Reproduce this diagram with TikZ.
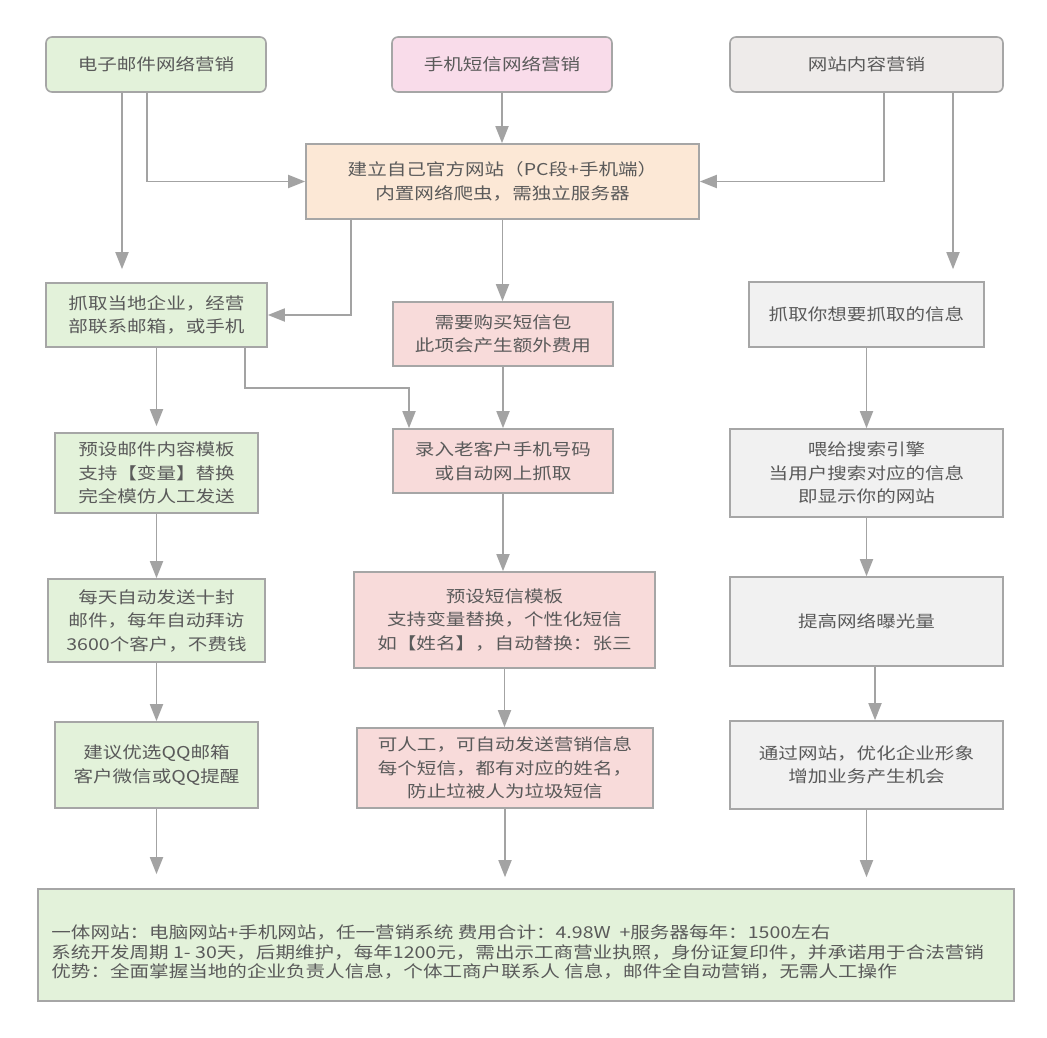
\documentclass[tikz,border=0pt]{standalone}
\usepackage{fontspec}
\newfontfamily\cjk[FakeStretch=1.2]{Noto Sans CJK SC}
\usetikzlibrary{arrows.meta}
\definecolor{bordc}{HTML}{A6A6A6}
\definecolor{arrc}{HTML}{A3A3A3}
\definecolor{txtc}{HTML}{5A5A5A}
\definecolor{grn}{HTML}{E3F2DA}
\definecolor{pnk}{HTML}{F9DCEA}
\definecolor{gryc}{HTML}{EEEBEA}
\definecolor{pch}{HTML}{FCE8D6}
\definecolor{rdp}{HTML}{F8DBDA}
\definecolor{gry}{HTML}{F1F1F1}
\begin{document}
\begin{tikzpicture}[x=1pt,y=-1pt,
  box/.style={draw=bordc, line width=1.6pt, text=txtc, align=center, inner sep=0pt,
    font=\cjk\fontsize{16.3}{23.5}\selectfont},
  rbox/.style={box, rounded corners=6pt},
  arr/.style={draw=arrc, line width=1.8pt, -{Triangle[length=17pt,width=13pt]}}]
\useasboundingbox (0,0) rectangle (1047,1038);
\fill[white] (0,0) rectangle (1047,1038);

\node[rbox, fill=grn, minimum width=220pt, minimum height=55pt] (A) at (156,64.5) {电子邮件网络营销};
\node[rbox, fill=pnk, minimum width=220pt, minimum height=55pt] (B) at (502,64.5) {手机短信网络营销};
\node[rbox, fill=gryc, minimum width=273pt, minimum height=55pt] (C) at (866.5,64.5) {网站内容营销};
\node[box, fill=pch, minimum width=393pt, minimum height=75pt] (D) at (502.5,181.5) {建立自己官方网站（PC段+手机端）\\ 内置网络爬虫，需独立服务器};

\node[box, fill=grn, minimum width=221pt, minimum height=64pt] (E) at (156.5,315) {抓取当地企业，经营\\部联系邮箱，或手机};
\node[box, fill=grn, minimum width=203pt, minimum height=80pt] (G) at (156.5,473) {预设邮件内容模板\\支持【变量】替换\\完全模仿人工发送};
\node[box, fill=grn, minimum width=217pt, minimum height=83pt] (I) at (156.5,620.5) {每天自动发送十封\\邮件，每年自动拜访\\3600个客户，不费钱};
\node[box, fill=grn, minimum width=203pt, minimum height=86pt] (K) at (156.5,765) {建议优选QQ邮箱\\客户微信或QQ提醒};

\node[box, fill=rdp, minimum width=220pt, minimum height=64pt] (F) at (503,334) {需要购买短信包\\此项会产生额外费用};
\node[box, fill=rdp, minimum width=220pt, minimum height=64pt] (H) at (503,461) {录入老客户手机号码\\或自动网上抓取};
\node[box, fill=rdp, minimum width=301pt, minimum height=96pt] (J) at (504.5,620) {预设短信模板\\支持变量替换，个性化短信\\如【姓名】，自动替换：张三};
\node[box, fill=rdp, minimum width=296pt, minimum height=80pt] (L) at (505,768) {可人工，可自动发送营销信息\\每个短信，都有对应的姓名，\\ 防止垃被人为垃圾短信};

\node[box, fill=gry, minimum width=235pt, minimum height=65pt] (M) at (866.5,314.5) {抓取你想要抓取的信息};
\node[box, fill=gry, minimum width=273pt, minimum height=88pt] (N) at (866.5,473) {喂给搜索引擎\\当用户搜索对应的信息\\即显示你的网站};
\node[box, fill=gry, minimum width=273pt, minimum height=89pt] (O) at (866.5,621.5) {提高网络曝光量};
\node[box, fill=gry, minimum width=273pt, minimum height=88pt] (P) at (866.5,765) {通过网站，优化企业形象\\增加业务产生机会};

\node[box, fill=grn, minimum width=976pt, minimum height=112pt] (Q) at (526,945) {};
\node[anchor=west, align=left, inner sep=0pt, text=txtc, font=\cjk\fontsize{16.3}{19.8}\selectfont] (QT) at ([xshift=14pt,yshift=-7pt]Q.west)
 {一体网站：电脑网站+手机网站，任一营销系统 费用合计：4.98W \ +服务器每年：1500左右\\
  系统开发周期 1- 30天，后期维护，每年1200元，需出示工商营业执照，身份证复印件，并承诺用于合法营销\\
  优势：全面掌握当地的企业负责人信息，个体工商户联系人 信息，邮件全自动营销，无需人工操作};

% connectors
\draw[arr] ([xshift=-9pt]A.south) |- (D.west);
\draw[arr, shorten >=13pt] ([xshift=-34pt]A.south) -- ([xshift=-34pt]A.south |- E.north);
\draw[arr] (B.south) -- (B.south |- D.north);
\draw[arr] ([xshift=17.5pt]C.south) |- (D.east);
\draw[arr, shorten >=12pt] ([xshift=86.5pt]C.south) -- ([xshift=86.5pt]C.south |- M.north);
\draw[arr] ([xshift=-151.5pt]D.south) |- (E.east);
\draw[arr] (D.south) -- (D.south |- F.north);
\draw[arr, shorten >=6pt] (E.south) -- (E.south |- G.north);
\draw[arr] ([xshift=88.5pt]E.south) -- ++(0,40) -| ([xshift=-94pt]H.north);
\draw[arr] (F.south) -- (H.north);
\draw[arr] (G.south) -- (I.north);
\draw[arr] (H.south) -- (H.south |- J.north);
\draw[arr] (I.south) -- (K.north);
\draw[arr] (J.south) -- (J.south |- L.north);
\draw[arr] (M.south) -- (N.north);
\draw[arr] (N.south) -- (O.north);
\draw[arr] ([xshift=8.5pt]O.south) -- ([xshift=8.5pt]O.south |- P.north);
\draw[arr, shorten >=14pt] (K.south) -- (K.south |- Q.north);
\draw[arr, shorten >=11pt] (L.south) -- (L.south |- Q.north);
\draw[arr, shorten >=11pt] (P.south) -- (P.south |- Q.north);
\end{tikzpicture}
\end{document}
